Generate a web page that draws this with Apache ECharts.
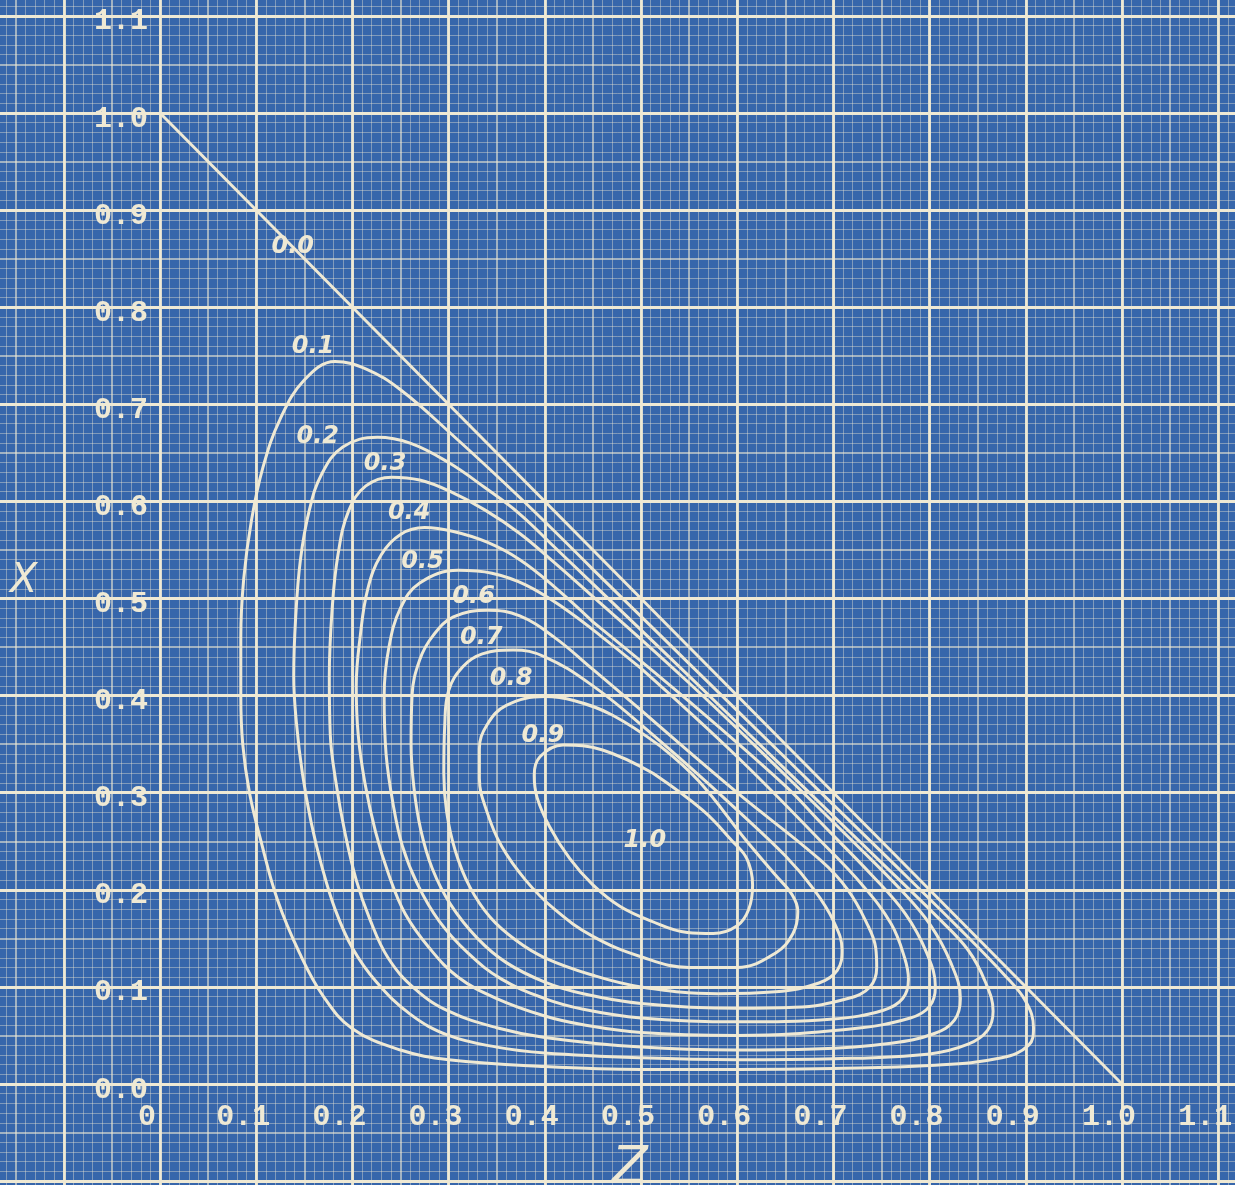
<!DOCTYPE html>
<html>
<head>
<meta charset="utf-8">
<script src="https://cdn.jsdelivr.net/npm/echarts@6/dist/echarts.min.js"></script>
<style>
  html, body { margin: 0; padding: 0; background: #3766ab; overflow: hidden; }
  #chart { width: 1235px; height: 1185px; }
</style>
</head>
<body>
<div id="chart"></div>
<script>
// Contour loops of the response surface, points given as [Z, X].
const contour01 = [[0.45,0.53],[0.55,0.433],[0.65,0.336],[0.75,0.239],[0.83,0.161],[0.878,0.112],[0.9,0.085],[0.908,0.058],[0.903,0.04],[0.875,0.027],[0.8,0.019],[0.7,0.016],[0.6,0.015],[0.5,0.015],[0.4,0.018],[0.3,0.025],[0.25,0.035],[0.2,0.057],[0.17,0.09],[0.145,0.135],[0.122,0.19],[0.105,0.25],[0.093,0.3],[0.086,0.35],[0.084,0.4],[0.084,0.46],[0.087,0.52],[0.095,0.58],[0.107,0.635],[0.125,0.685],[0.15,0.725],[0.182,0.744],[0.215,0.736],[0.25,0.715],[0.3,0.672],[0.374,0.604]];
const contour02 = [[0.45,0.515],[0.55,0.42],[0.65,0.324],[0.75,0.228],[0.81,0.17],[0.84,0.138],[0.858,0.105],[0.866,0.075],[0.86,0.055],[0.84,0.041],[0.8,0.031],[0.7,0.026],[0.6,0.025],[0.5,0.027],[0.4,0.032],[0.35,0.038],[0.3,0.05],[0.26,0.072],[0.225,0.105],[0.2,0.14],[0.182,0.18],[0.168,0.225],[0.157,0.27],[0.148,0.32],[0.142,0.37],[0.139,0.42],[0.141,0.48],[0.146,0.54],[0.155,0.59],[0.168,0.628],[0.19,0.656],[0.226,0.666],[0.26,0.66],[0.3,0.64],[0.338,0.614],[0.374,0.587],[0.41,0.553]];
const contour03 = [[0.45,0.502],[0.55,0.413],[0.65,0.318],[0.72,0.25],[0.77,0.2],[0.8,0.165],[0.822,0.125],[0.832,0.088],[0.826,0.066],[0.805,0.052],[0.76,0.042],[0.68,0.036],[0.6,0.035],[0.5,0.038],[0.4,0.048],[0.35,0.058],[0.3,0.075],[0.265,0.098],[0.237,0.13],[0.218,0.17],[0.204,0.21],[0.192,0.26],[0.183,0.31],[0.177,0.36],[0.176,0.42],[0.179,0.49],[0.185,0.545],[0.196,0.59],[0.214,0.616],[0.241,0.625],[0.27,0.622],[0.3,0.611],[0.338,0.591],[0.374,0.567],[0.41,0.537]];
const contour04 = [[0.45,0.476],[0.55,0.394],[0.65,0.307],[0.686,0.27],[0.74,0.215],[0.775,0.175],[0.797,0.135],[0.806,0.1],[0.8,0.08],[0.78,0.068],[0.72,0.057],[0.6,0.05],[0.5,0.053],[0.44,0.061],[0.4,0.07],[0.35,0.088],[0.31,0.11],[0.28,0.14],[0.255,0.175],[0.238,0.215],[0.224,0.26],[0.213,0.31],[0.206,0.36],[0.204,0.41],[0.208,0.46],[0.216,0.51],[0.23,0.545],[0.25,0.566],[0.275,0.573],[0.305,0.569],[0.34,0.558],[0.374,0.54],[0.41,0.512]];
const contour05 = [[0.5,0.428],[0.6,0.337],[0.686,0.251],[0.73,0.205],[0.76,0.165],[0.774,0.13],[0.778,0.108],[0.772,0.088],[0.752,0.076],[0.7,0.067],[0.6,0.064],[0.5,0.068],[0.44,0.077],[0.4,0.088],[0.355,0.108],[0.32,0.135],[0.29,0.168],[0.268,0.205],[0.252,0.245],[0.242,0.29],[0.235,0.34],[0.233,0.4],[0.238,0.45],[0.25,0.49],[0.27,0.516],[0.31,0.529],[0.345,0.526],[0.38,0.514],[0.42,0.49],[0.46,0.46]];
const contour06 = [[0.5,0.385],[0.6,0.3],[0.686,0.231],[0.715,0.2],[0.735,0.165],[0.744,0.14],[0.745,0.12],[0.738,0.1],[0.715,0.088],[0.66,0.079],[0.6,0.078],[0.5,0.083],[0.44,0.093],[0.4,0.105],[0.36,0.125],[0.33,0.15],[0.302,0.185],[0.283,0.222],[0.271,0.262],[0.264,0.305],[0.261,0.35],[0.262,0.4],[0.27,0.437],[0.284,0.462],[0.305,0.481],[0.341,0.488],[0.374,0.482],[0.41,0.46],[0.45,0.427]];
const contour07 = [[0.5,0.37],[0.55,0.327],[0.6,0.282],[0.65,0.235],[0.68,0.2],[0.7,0.168],[0.709,0.138],[0.704,0.117],[0.685,0.104],[0.64,0.095],[0.58,0.093],[0.5,0.1],[0.45,0.112],[0.4,0.13],[0.37,0.148],[0.343,0.172],[0.322,0.203],[0.307,0.24],[0.298,0.28],[0.295,0.32],[0.296,0.37],[0.3,0.405],[0.315,0.43],[0.335,0.443],[0.367,0.447],[0.4,0.44],[0.45,0.41]];
const contour08 = [[0.52,0.348],[0.56,0.312],[0.61,0.25],[0.64,0.215],[0.657,0.195],[0.663,0.178],[0.658,0.155],[0.64,0.135],[0.6,0.12],[0.55,0.12],[0.5,0.131],[0.45,0.152],[0.41,0.18],[0.38,0.21],[0.355,0.245],[0.34,0.28],[0.332,0.315],[0.332,0.345],[0.34,0.37],[0.36,0.39],[0.4,0.399],[0.43,0.395],[0.47,0.38]];
const contour09 = [[0.5125,0.32],[0.564,0.282],[0.595,0.25],[0.61,0.232],[0.616,0.205],[0.612,0.18],[0.6,0.163],[0.575,0.155],[0.548,0.156],[0.51,0.168],[0.478,0.183],[0.45,0.205],[0.426,0.232],[0.405,0.265],[0.392,0.295],[0.389,0.318],[0.395,0.337],[0.419,0.349],[0.46,0.344]];

// Zero level: the edge X + Z = 1 of the composition triangle.
const contour00 = [[0, 1], [1, 0]];

const contourLoops = [contour01, contour02, contour03, contour04, contour05, contour06, contour07, contour08, contour09];

// Hand-lettered level labels and where they sit, [Z, X].
const levelNames = ['0.0', '0.1', '0.2', '0.3', '0.4', '0.5', '0.6', '0.7', '0.8', '0.9', '1.0'];
const levelLabelAt = [[0.138,0.862],[0.159,0.759],[0.164,0.667],[0.234,0.639],[0.259,0.588],[0.273,0.538],[0.326,0.502],[0.334,0.46],[0.365,0.417],[0.398,0.359],[0.504,0.251]];

// Typed tick labels on the two axes.
const zTickLabels = ['0', '0.1', '0.2', '0.3', '0.4', '0.5', '0.6', '0.7', '0.8', '0.9', '1.0', '1.1'];
const xTickLabels = ['0.0', '0.1', '0.2', '0.3', '0.4', '0.5', '0.6', '0.7', '0.8', '0.9', '1.0', '1.1'];

const cream = '#efe9d4';
const paper = '#3766ab';

function tickText(list) {
  return function (v) {
    const i = Math.round(v * 10);
    if (Math.abs(v * 10 - i) > 1e-6 || i < 0 || i >= list.length) return '';
    return list[i];
  };
}

const typeFont = { color: cream, fontFamily: 'Liberation Mono', fontWeight: 'bold', fontSize: 30 };
const handFont = { color: cream, fontFamily: 'DejaVu Sans', fontStyle: 'italic', fontWeight: 'bold' };

// Graph-paper rulings: 0.1 heavy, 0.05 medium, 0.01 fine.
function majorRuling(isX) {
  return {
    type: 'value', gridIndex: 0, min: -0.2, max: 1.2, interval: 0.1, z: 1,
    position: isX ? 'bottom' : 'left',
    axisLine: { show: false }, axisTick: { show: false }, axisLabel: { show: false },
    splitLine: { show: true, lineStyle: { color: cream, width: 2.8 } }
  };
}
function fineRuling(isX) {
  return {
    type: 'value', gridIndex: 0, min: -0.2, max: 1.2, interval: 0.05, z: 0,
    position: isX ? 'top' : 'right',
    axisLine: { show: false }, axisTick: { show: false }, axisLabel: { show: false },
    splitLine: { show: true, lineStyle: { color: 'rgba(239,233,212,0.78)', width: 1.5 } },
    minorTick: { show: false, splitNumber: 5 },
    minorSplitLine: { show: true, lineStyle: { color: 'rgba(239,233,212,0.40)', width: 1 } }
  };
}
// Tick-label axes, whose grid starts at the origin so labels sit on the zero lines.
function labelAxis(isX) {
  const label = isX
    ? { margin: 18, padding: [0, 26, 0, 0] }
    : { margin: 12, verticalAlign: 'top', lineHeight: 12 };
  return {
    type: 'value', gridIndex: 1, min: 0, max: 1.2, interval: 0.1, z: 2,
    position: isX ? 'bottom' : 'left',
    axisLine: { show: false }, axisTick: { show: false },
    splitLine: { show: false },
    axisLabel: Object.assign({ show: true, formatter: tickText(isX ? zTickLabels : xTickLabels) },
      label, typeFont)
  };
}

const series = [];
series.push({
  name: levelNames[0], type: 'line', data: contour00, symbol: 'none', silent: true,
  lineStyle: { color: cream, width: 3 }, z: 3
});
contourLoops.forEach(function (loop, k) {
  series.push({
    name: levelNames[k + 1], type: 'line', data: loop.concat([loop[0]]),
    symbol: 'none', smooth: 0.4, silent: true,
    lineStyle: { color: cream, width: 3 }, z: 3
  });
});
series.push({
  name: 'labels', type: 'scatter', symbolSize: 1, silent: true, z: 4,
  itemStyle: { color: 'rgba(0,0,0,0)' },
  data: levelNames.map(function (n, i) { return { name: n, value: levelLabelAt[i] }; }),
  label: Object.assign({ show: true, position: 'inside', formatter: '{b}', fontSize: 24,
    textBorderWidth: 0, opacity: 1 }, handFont)
});

const chart = echarts.init(document.getElementById('chart'), null, { renderer: 'canvas' });
chart.setOption({
  backgroundColor: paper,
  animation: false,
  grid: [
    { left: -32.4, top: -81.2, width: 1346.8, height: 1359.4, outerBoundsMode: 'none', containLabel: false },
    { left: 160, top: -81.2, width: 1154.4, height: 1165.2, outerBoundsMode: 'none', containLabel: false }
  ],
  xAxis: [majorRuling(true), fineRuling(true), labelAxis(true)],
  yAxis: [majorRuling(false), fineRuling(false), labelAxis(false)],
  graphic: [
    { type: 'text', left: 10, top: 562, z: 10,
      style: { text: 'X', fill: cream, font: 'italic 40px "DejaVu Sans"' } },
    { type: 'text', left: 612, top: 1143, z: 10,
      style: { text: 'Z', fill: cream, font: 'italic 52px "DejaVu Sans"' } }
  ],
  series: series
});
</script>
</body>
</html>
